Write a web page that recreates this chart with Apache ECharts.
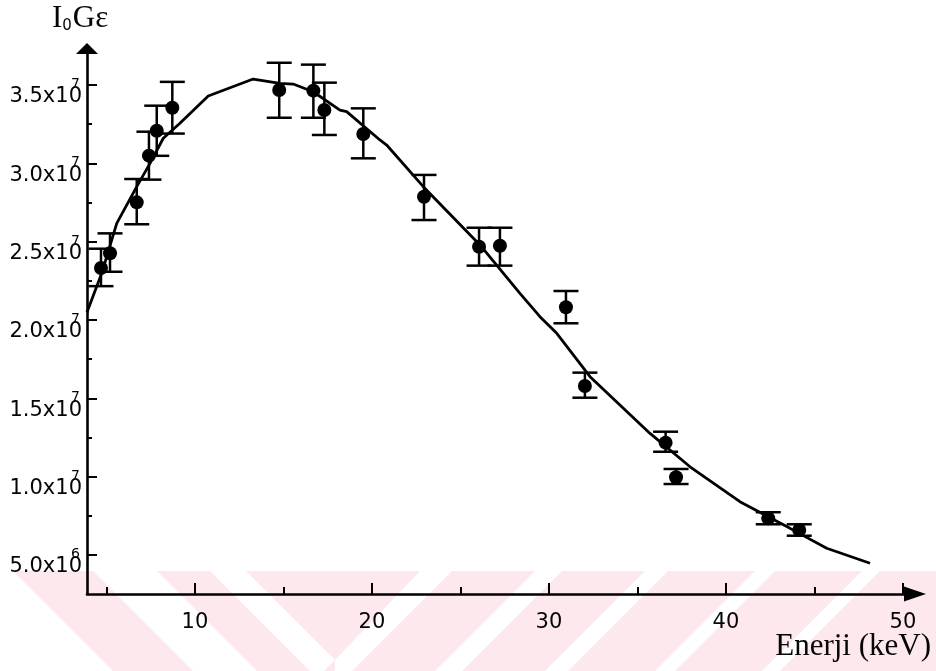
<!DOCTYPE html>
<html>
<head>
<meta charset="utf-8">
<script src="https://cdn.jsdelivr.net/npm/echarts@6/dist/echarts.min.js"></script>
<style>
  html, body { margin: 0; padding: 0; background: #ffffff; }
  #chart { width: 936px; height: 671px; }
</style>
</head>
<body>
<div id="chart"></div>
<script>
// Measured peaks: photon energy (keV)
const energies = [4.69, 5.20, 6.71, 7.40, 7.84, 8.72, 14.76, 16.69, 17.31, 19.51,
                  22.94, 26.05, 27.23, 30.96, 32.03, 36.59, 37.18, 42.39, 44.14];
// I0·G·ε for each peak, in units of 1e7
const measured = [2.332, 2.426, 2.751, 3.049, 3.208, 3.355, 3.468, 3.464, 3.340, 3.187,
                  2.787, 2.468, 2.474, 2.081, 1.579, 1.217, 0.996, 0.734, 0.660];
// Lower / upper ends of the uncertainty bars (units of 1e7)
const errLow  = [2.216, 2.308, 2.611, 2.896, 3.048, 3.190, 3.291, 3.291, 3.181, 3.032,
                 2.638, 2.347, 2.347, 1.979, 1.504, 1.159, 0.953, 0.696, 0.623];
const errHigh = [2.455, 2.553, 2.900, 3.202, 3.368, 3.520, 3.642, 3.630, 3.515, 3.351,
                 2.926, 2.589, 2.589, 2.185, 1.664, 1.287, 1.049, 0.773, 0.696];
// Fitted efficiency curve
const fitEnergy = [3.9, 4.73, 5.58, 6.71, 7.46, 8.21, 9.15, 10.75, 13.29, 14.80, 15.55,
                   16.68, 18.19, 18.57, 20.45, 20.83, 22.90, 26.10, 28.36, 29.49, 30.44,
                   32.32, 35.71, 37.97, 40.79, 43.62, 45.69, 48.14];
const fitValue  = [2.05, 2.298, 2.617, 2.851, 3.000, 3.160, 3.256, 3.430, 3.538, 3.511, 3.506,
                   3.457, 3.340, 3.330, 3.149, 3.117, 2.851, 2.479, 2.170, 2.021, 1.915,
                   1.638, 1.276, 1.063, 0.840, 0.670, 0.543, 0.447];

// Axis ticks
const xTicks = [10, 20, 30, 40, 50];
const xMinorTicks = [5, 15, 25, 35, 45];
const yTicks = [0.5, 1.0, 1.5, 2.0, 2.5, 3.0, 3.5];
const yMinorTicks = [0.75, 1.25, 1.75, 2.25, 2.75, 3.25];
const yTickMantissa = ['5.0', '1.0', '1.5', '2.0', '2.5', '3.0', '3.5'];
const yTickExponent = ['6', '7', '7', '7', '7', '7', '7'];

const X_MIN = 3.9, X_MAX = 50.68, Y_MIN = 0.251, Y_MAX = 3.733;
const SANS = '"DejaVu Sans", "Liberation Sans", Arial, sans-serif';
const SERIF = '"Liberation Serif", "Times New Roman", serif';
const INK = '#000000';
const TEXT = '#050505';
const PINK = '#fde9ed';

const chart = echarts.init(document.getElementById('chart'), null, { renderer: 'canvas' });

const gridBox = { left: 87, right: 21, top: 48.5, bottom: 77, containLabel: false, outerBoundsMode: 'none' };

// faint diagonal band along the bottom edge
const bandTop = 571, bandBottom = 671;
const whiteGaps = [
  [[0, 571], [13, 571], [113, 671], [0, 671]],
  [[93, 571], [157, 571], [257, 671], [193, 671]],
  [[210, 571], [246, 571], [335, 660], [324, 671], [310, 671]],
  [[420, 571], [452, 571], [352, 671], [335, 671], [335, 660]],
  [[535, 571], [562, 571], [462, 671], [435, 671]],
  [[645, 571], [668, 571], [568, 671], [545, 671]],
  [[755, 571], [775, 571], [675, 671], [655, 671]],
  [[862, 571], [880, 571], [780, 671], [762, 671]]
];
const bandGraphics = [{
  type: 'rect', z: -10,
  shape: { x: 0, y: bandTop, width: 936, height: bandBottom - bandTop },
  style: { fill: PINK }
}].concat(whiteGaps.map(pts => ({
  type: 'polygon', z: -9,
  shape: { points: pts },
  style: { fill: '#ffffff' }
})));

function tickIndex(v) {
  for (let k = 0; k < yTicks.length; k++) if (Math.abs(yTicks[k] - v) < 1e-6) return k;
  return -1;
}
function yMantissaLabel(v) {
  const i = tickIndex(v);
  return i < 0 ? '' : '{m|' + yTickMantissa[i] + 'x10}';
}
function yExponentLabel(v) {
  const i = tickIndex(v);
  return i < 0 ? '' : '{e|' + yTickExponent[i] + '}';
}

const option = {
  backgroundColor: '#ffffff',
  animation: false,
  grid: [
    Object.assign({}, gridBox),
    Object.assign({}, gridBox)
  ],
  xAxis: [{
    type: 'value', gridIndex: 0, min: X_MIN, max: X_MAX,
    axisLine: { show: true, lineStyle: { color: INK, width: 2.6 },
      symbol: ['none', 'triangle'], symbolSize: [15, 22] },
    axisTick: { show: true, inside: true, length: 11, lineStyle: { color: INK, width: 2 },
      customValues: xTicks },
    axisLabel: { show: true, customValues: xTicks, margin: 18,
      color: TEXT, fontFamily: SANS, fontSize: 21 },
    splitLine: { show: false }
  }, {
    type: 'value', gridIndex: 1, min: X_MIN, max: X_MAX,
    axisLine: { show: false },
    axisTick: { show: true, inside: true, length: 7, lineStyle: { color: INK, width: 2 },
      customValues: xMinorTicks },
    axisLabel: { show: false },
    splitLine: { show: false }
  }],
  yAxis: [{
    type: 'value', gridIndex: 0, min: Y_MIN, max: Y_MAX,
    axisLine: { show: true, lineStyle: { color: INK, width: 2.6 },
      symbol: ['none', 'triangle'], symbolSize: [22, 11] },
    axisTick: { show: true, inside: true, length: 10, lineStyle: { color: INK, width: 2 },
      customValues: yTicks },
    axisLabel: {
      show: true, customValues: yTicks, margin: 5,
      formatter: yMantissaLabel,
      rich: {
        m: { fontFamily: SANS, fontSize: 21, color: TEXT, padding: [24, 0, 0, 0] }
      }
    },
    splitLine: { show: false }
  }, {
    // minor ticks and the power-of-ten exponents
    type: 'value', gridIndex: 1, min: Y_MIN, max: Y_MAX,
    axisLine: { show: false },
    axisTick: { show: true, inside: true, length: 5, lineStyle: { color: INK, width: 2 },
      customValues: yMinorTicks },
    axisLabel: {
      show: true, customValues: yTicks, margin: 7,
      formatter: yExponentLabel,
      rich: {
        e: { fontFamily: SANS, fontSize: 14, color: TEXT, padding: [0, 0, 1, 0] }
      }
    },
    splitLine: { show: false }
  }],
  graphic: bandGraphics.concat([
    {
      type: 'text', left: 52, top: 3,
      style: {
        text: '{a|I}{s|0}{a|Gε}',
        rich: {
          a: { fontFamily: SERIF, fontSize: 31, fill: TEXT, verticalAlign: 'bottom' },
          s: { fontFamily: SANS, fontSize: 15, fill: TEXT, padding: [0, 1, 0, 0], verticalAlign: 'bottom' }
        }
      }
    },
    {
      type: 'text', x: 931, y: 647,
      style: {
        text: 'Enerji (keV)', align: 'right', verticalAlign: 'middle',
        font: '31px ' + SERIF, fill: TEXT
      }
    }
  ]),
  series: [
    {
      name: 'fit', type: 'line', xAxisIndex: 0, yAxisIndex: 0,
      data: fitEnergy.map((e, i) => [e, fitValue[i]]),
      showSymbol: false, smooth: false,
      lineStyle: { color: INK, width: 2.8 },
      z: 3
    },
    {
      name: 'uncertainty', type: 'custom', xAxisIndex: 0, yAxisIndex: 0,
      data: energies.map((e, i) => [e, errLow[i], errHigh[i]]),
      encode: { x: 0, y: [1, 2] },
      renderItem: function (params, api) {
        const x = api.value(0);
        const top = api.coord([x, api.value(2)]);
        const bot = api.coord([x, api.value(1)]);
        const hw = 12.5;
        const st = { stroke: INK, lineWidth: 2.5 };
        return {
          type: 'group',
          children: [
            { type: 'line', shape: { x1: top[0], y1: top[1], x2: bot[0], y2: bot[1] }, style: st },
            { type: 'line', shape: { x1: top[0] - hw, y1: top[1], x2: top[0] + hw, y2: top[1] }, style: st },
            { type: 'line', shape: { x1: bot[0] - hw, y1: bot[1], x2: bot[0] + hw, y2: bot[1] }, style: st }
          ]
        };
      },
      z: 4
    },
    {
      name: 'measured', type: 'scatter', xAxisIndex: 0, yAxisIndex: 0,
      data: energies.map((e, i) => [e, measured[i]]),
      symbol: 'circle', symbolSize: 14,
      itemStyle: { color: INK, opacity: 1 },
      z: 5
    }
  ]
};

chart.setOption(option);
</script>
</body>
</html>
